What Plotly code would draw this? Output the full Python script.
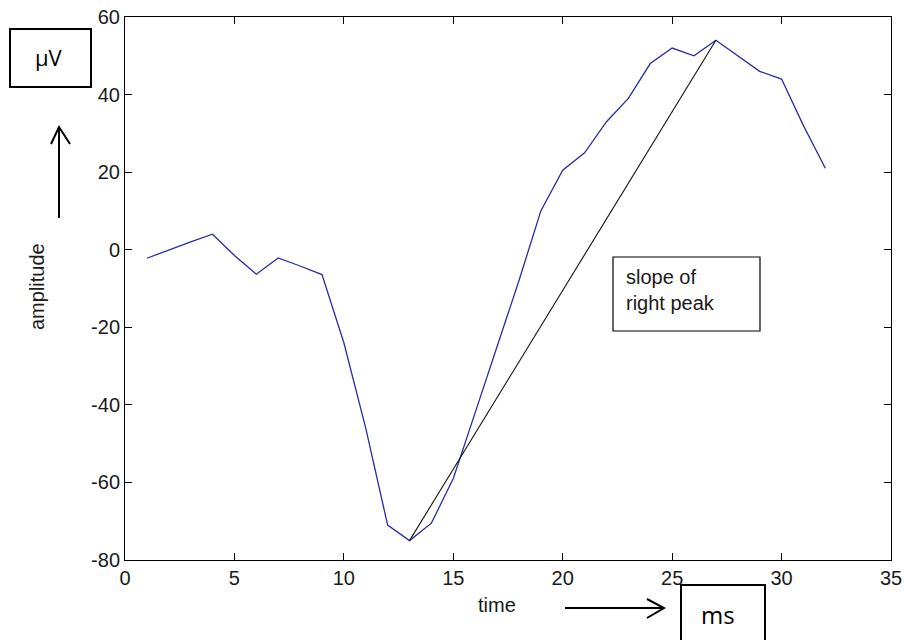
import plotly.graph_objects as go

# ---- data ----
time = list(range(1, 33))
amplitude = [-2.2, 0.0, 2.0, 4.0, -1.5, -6.3, -2.1, -4.2, -6.4, -24.0,
             -46.0, -71.0, -75.0, -70.5, -59.0, -42.0, -25.0, -8.0, 10.0, 20.5,
             25.0, 33.0, 39.0, 48.0, 52.0, 50.0, 54.0, 50.0, 46.0, 44.0,
             32.0, 21.0]
slope_x = [13, 27]
slope_y = [-75.0, 54.0]

x_ticks = [0, 5, 10, 15, 20, 25, 30, 35]
y_ticks = [-80, -60, -40, -20, 0, 20, 40, 60]

W, H = 904, 640
L, R, T, B = 125, 13, 17, 80
PW, PH = W - L - R, H - T - B


def px(xp):
    return (xp - L) / PW


def py(yp):
    return (H - B - yp) / PH


fig = go.Figure()
fig.add_trace(go.Scatter(x=time, y=amplitude, mode="lines",
                         line=dict(color="#2b2ba8", width=1.3),
                         showlegend=False, hoverinfo="x+y"))
fig.add_trace(go.Scatter(x=slope_x, y=slope_y, mode="lines",
                         line=dict(color="#111111", width=1.1),
                         showlegend=False, hoverinfo="x+y"))

axis_common = dict(showline=True, linecolor="black", linewidth=1,
                   mirror="ticks", ticks="inside", ticklen=7,
                   tickcolor="black", showgrid=False, zeroline=False,
                   automargin=False,
                   tickfont=dict(family="Liberation Sans, Arial", size=20,
                                 color="#1a1a1a"))

fig.update_layout(
    width=W, height=H,
    margin=dict(l=L, r=R, t=T, b=B, autoexpand=False),
    paper_bgcolor="white", plot_bgcolor="white",
    xaxis=dict(range=[0, 35], tickvals=x_ticks,
               ticktext=[str(v) for v in x_ticks], **axis_common),
    yaxis=dict(range=[-80, 60], tickvals=y_ticks,
               ticktext=[str(v) for v in y_ticks], **axis_common),
    font=dict(family="Liberation Sans, Arial", color="#1a1a1a"),
)

shapes = []
# slope annotation box (inside plot)
shapes.append(dict(type="rect", xref="paper", yref="paper",
                   x0=px(613), x1=px(760), y0=py(331), y1=py(257),
                   line=dict(color="black", width=1.2)))
# µV box
shapes.append(dict(type="rect", xref="paper", yref="paper",
                   x0=px(10), x1=px(91), y0=py(87), y1=py(29),
                   line=dict(color="black", width=2)))
# ms box
shapes.append(dict(type="rect", xref="paper", yref="paper",
                   x0=px(681), x1=px(765), y0=py(648), y1=py(585),
                   line=dict(color="black", width=2)))


def path(pts):
    s = ""
    for i, (a, b) in enumerate(pts):
        s += ("M" if i == 0 else "L") + f" {px(a):.5f} {py(b):.5f} "
    return s


# up arrow
shapes.append(dict(type="path", xref="paper", yref="paper",
                   path=path([(59, 218), (59, 127)]),
                   line=dict(color="black", width=2)))
shapes.append(dict(type="path", xref="paper", yref="paper",
                   path=path([(51, 144), (59, 127), (70, 144)]),
                   line=dict(color="black", width=2)))
# right arrow
shapes.append(dict(type="path", xref="paper", yref="paper",
                   path=path([(565, 608), (664, 608)]),
                   line=dict(color="black", width=2)))
shapes.append(dict(type="path", xref="paper", yref="paper",
                   path=path([(647, 599), (664, 608), (647, 618)]),
                   line=dict(color="black", width=2)))
fig.update_layout(shapes=shapes)

common = dict(xref="paper", yref="paper", showarrow=False,
              xanchor="center", yanchor="middle")
annotations = [
    dict(text="time", x=px(497), y=py(605),
         font=dict(size=20, color="#1a1a1a"), **common),
    dict(text="amplitude", x=px(37), y=py(287), textangle=-90,
         font=dict(size=20, color="#1a1a1a"), **common),
    dict(text="µV", x=px(49), y=py(57),
         font=dict(family="Open Sans, Liberation Sans", size=22,
                   color="black"), **common),
    dict(text="ms", x=px(718), y=py(614),
         font=dict(family="Open Sans, Liberation Sans", size=24,
                   color="black"), **common),
    dict(text="slope of<br>right peak", x=px(624), y=py(290), xref="paper",
         yref="paper", xanchor="left", yanchor="middle", align="left",
         showarrow=False, font=dict(size=20, color="#1a1a1a")),
]
fig.update_layout(annotations=annotations)

fig.write_html("out.html",
               config={"displayModeBar": False},
               post_script="document.body.style.margin='0';"
                           "document.body.style.padding='0';")
